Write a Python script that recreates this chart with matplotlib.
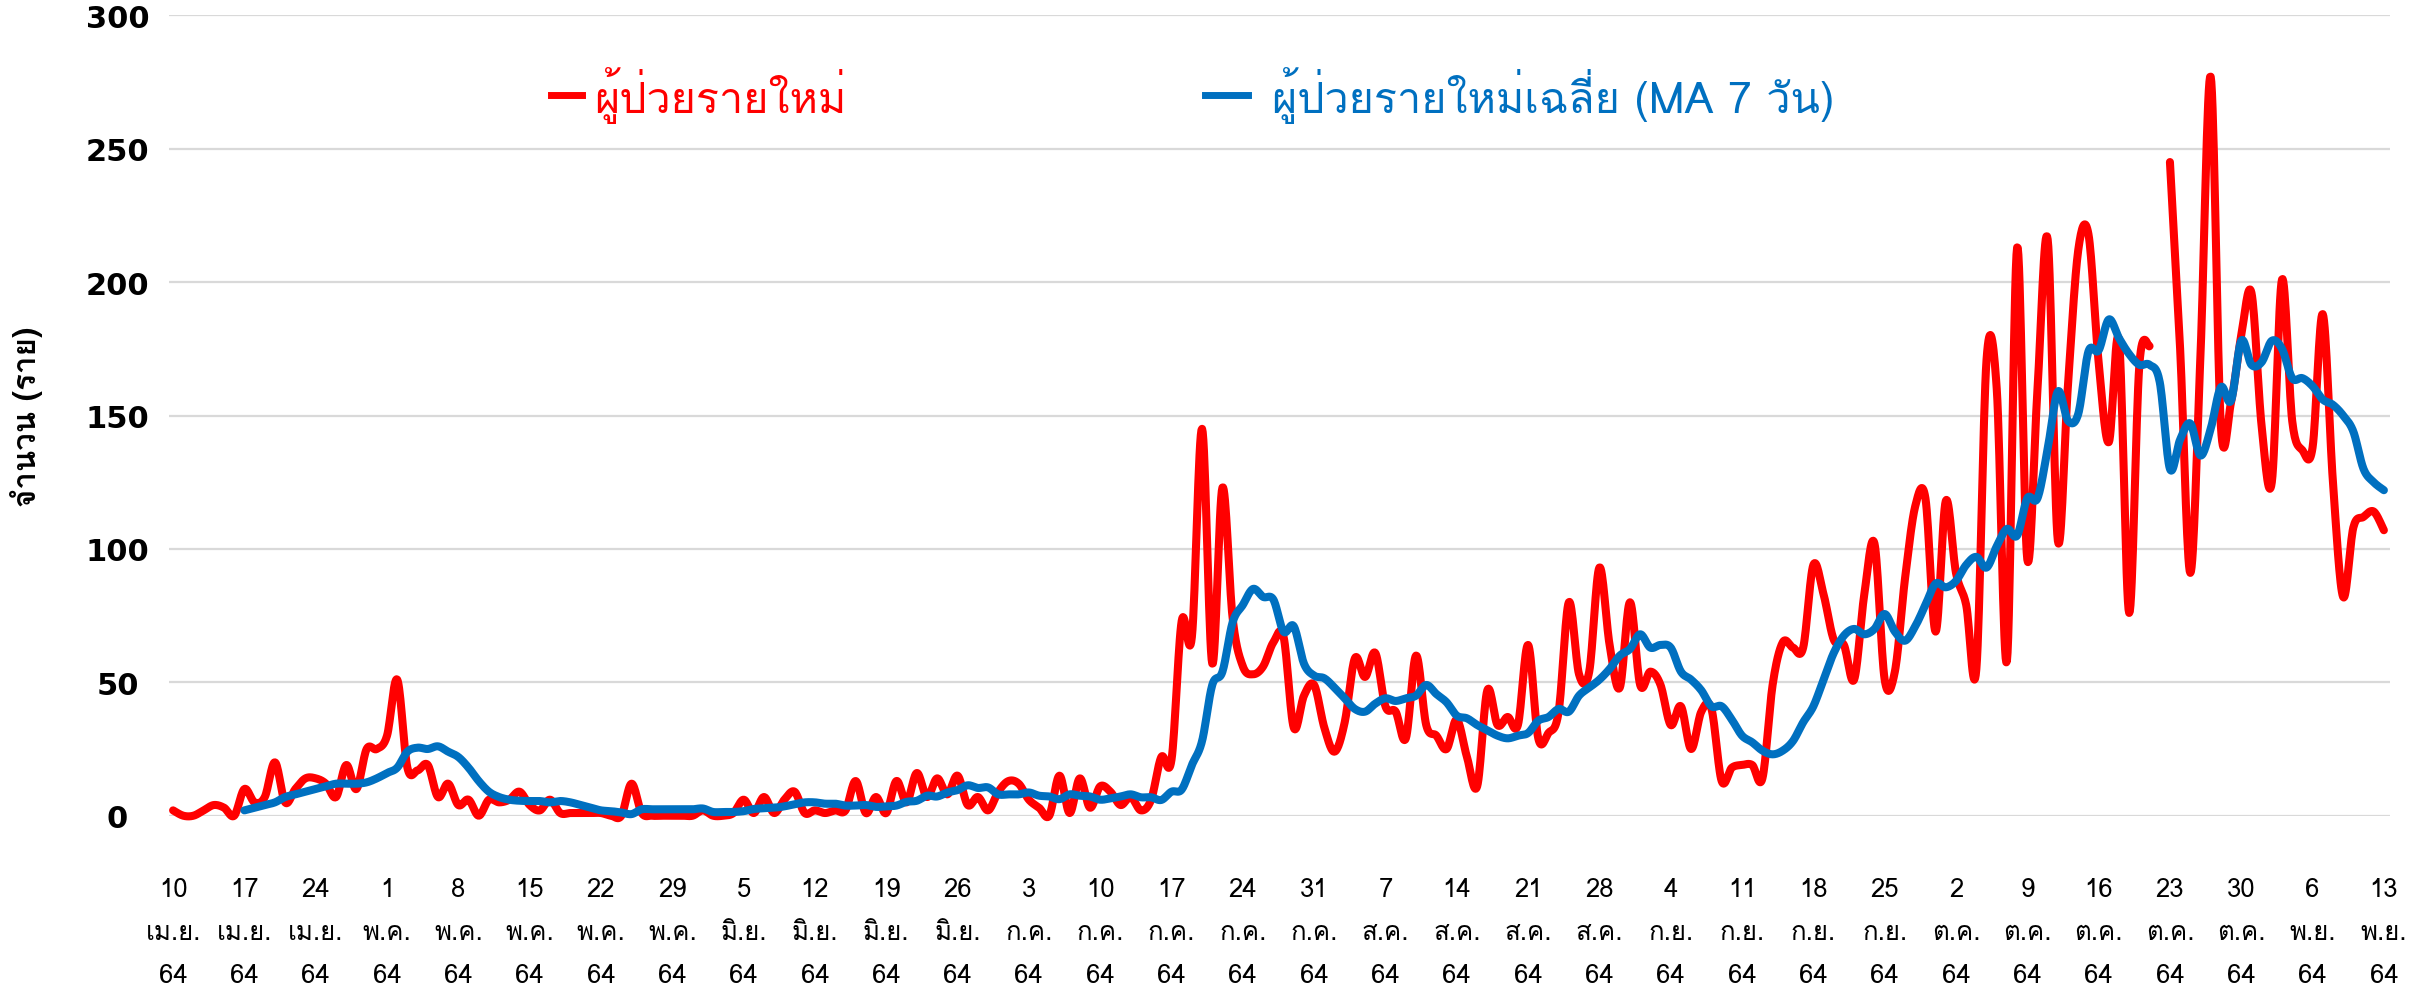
import numpy as np
import matplotlib
matplotlib.use("Agg")
import matplotlib.pyplot as plt

# ---------------- data ----------------
new_cases = [
    2, 0, 0, 2, 4, 3, 0, 10, 5, 7, 20, 5, 10, 14, 14, 12, 7, 19, 10, 25,
    25, 30, 51, 18, 17, 19, 7, 12, 4, 6, 0, 6, 5, 6, 9, 4, 2, 6, 1, 1,
    1, 1, 1, 0, 0, 12, 1, 0, 0, 0, 0, 0, 2, 0, 0, 1, 6, 1, 7, 1,
    6, 9, 1, 2, 1, 2, 2, 13, 1, 7, 1, 13, 5, 16, 7, 14, 8, 15, 4, 7,
    2, 9, 13, 12, 6, 3, 0, 15, 1, 14, 3, 11, 9, 4, 7, 2, 6, 22, 21, 73,
    67, 145, 57, 123, 74, 56, 53, 56, 65, 67, 33, 45, 49, 33, 24, 35, 59, 52, 61, 41,
    39, 29, 60, 34, 30, 25, 36, 22, 11, 47, 34, 37, 34, 64, 29, 31, 39, 80, 53, 54,
    93, 64, 48, 80, 49, 54, 49, 34, 41, 25, 39, 40, 13, 18, 19, 19, 14, 49, 65, 63,
    63, 94, 83, 66, 64, 51, 83, 102, 51, 54, 89, 116, 119, 69, 118, 91, 79, 55, 171, 160,
    58, 213, 96, 160, 216, 103, 162, 212, 218, 170, 140, 178, 76, 169, 176, np.nan, 245, 175, 91, 173,
    277, 146, 155, 180, 196, 146, 125, 201, 148, 137, 138, 188, 125, 82, 108, 112, 114, 107,
]

ma7 = [np.nan] * 7 + [
    2, 3, 4, 5, 7, 8, 9, 10, 11, 12, 12, 12, 12.5, 14, 16, 18, 24, 25.5, 25, 26,
    24, 22, 18, 13, 9, 7, 6, 5.6, 5.5, 5.5, 5, 5.5, 5, 4, 3, 2, 1.7, 1.2, 0.6, 2.4,
    2.4, 2.4, 2.4, 2.4, 2.4, 2.7, 1.4, 1.4, 1.4, 1.7, 2.5, 2.8, 3, 3.5, 4.3, 5, 5, 4.5,
    4.5, 3.8, 3.8, 4, 3.3, 3.5, 3.8, 5.2, 5.6, 7.5, 7.2, 8.7, 9.6, 11.4, 10.4, 10.6, 8, 8,
    8, 8.7, 7.5, 7.2, 6.2, 8, 7.5, 7.2, 6, 6.5, 7.2, 8, 6.9, 6.9, 5.9, 9, 9.8, 19,
    28, 49, 54, 72.5, 79, 85, 82, 81, 69, 71, 57, 52.5, 51.5, 48, 44, 40, 39, 42, 44, 43,
    44, 45, 49, 45.6, 42.5, 37.5, 36.5, 34, 32, 30, 29, 30, 31, 35.6, 37, 40, 39, 45, 48, 51,
    55, 60, 62.5, 68, 63, 64, 63, 54, 51, 47, 41, 41, 36, 30, 27.5, 24.4, 23, 24.4, 28, 35,
    41, 51, 61, 67.5, 70, 68, 70, 75.6, 69, 65.6, 71, 79, 87, 85.6, 88, 94, 97, 93, 101, 107.5,
    105, 119, 119, 137.5, 159, 148, 150.6, 174, 174.4, 186, 179, 173, 169, 169, 162.5, 130, 141, 147, 135, 145,
    160.6, 155.6, 178, 169, 170, 178, 175, 164, 164, 161, 156, 154, 150, 144, 130, 125, 122,
]

tick_days = ["10", "17", "24", "1", "8", "15", "22", "29", "5", "12", "19", "26",
             "3", "10", "17", "24", "31", "7", "14", "21", "28", "4", "11", "18",
             "25", "2", "9", "16", "23", "30", "6", "13"]
tick_months = ["เม.ย."] * 3 + ["พ.ค."] * 5 + ["มิ.ย."] * 4 + ["ก.ค."] * 5 + \
              ["ส.ค."] * 4 + ["ก.ย."] * 4 + ["ต.ค."] * 5 + ["พ.ย."] * 2
tick_year = "64"
legend_labels = ["ผู้ป่วยรายใหม่", "ผู้ป่วยรายใหม่เฉลี่ย (MA 7 วัน)"]
y_label = "จำนวน (ราย)"
y_ticks = [0, 50, 100, 150, 200, 250, 300]

# ---------------- fonts ----------------
FAMS = ["Loma", "DejaVu Sans"]
plt.rcParams["font.family"] = FAMS

# ---------------- smoothing (Excel-like) ----------------
def smooth_runs(x, y, n=16):
    x = np.asarray(x, float)
    y = np.asarray(y, float)
    idx = np.where(~np.isnan(y))[0]
    runs = np.split(idx, np.where(np.diff(idx) != 1)[0] + 1)
    out = []
    t = np.linspace(0, 1, n, endpoint=False)
    for r in runs:
        if len(r) == 0:
            continue
        P = np.column_stack([x[r], y[r]])
        if len(P) == 1:
            out.append(P)
            continue
        Pe = np.vstack([P[0], P, P[-1]])
        pts = []
        for i in range(len(P) - 1):
            p0, p1, p2, p3 = Pe[i], Pe[i + 1], Pe[i + 2], Pe[i + 3]
            c1 = p1 + (p2 - p0) / 6.0
            c2 = p2 - (p3 - p1) / 6.0
            b = (((1 - t) ** 3)[:, None] * p1 + (3 * (1 - t) ** 2 * t)[:, None] * c1
                 + (3 * (1 - t) * t ** 2)[:, None] * c2 + (t ** 3)[:, None] * p2)
            pts.append(b)
        pts.append(P[-1:])
        out.append(np.vstack(pts))
    return out

# ---------------- plot ----------------
W, H = 2432, 1004
fig = plt.figure(figsize=(W / 100, H / 100), dpi=100)
left, right = 169 / W, 2390 / W
bottom, top = 1 - 816.7 / H, 1 - 16.3 / H
ax = fig.add_axes([left, bottom, right - left, top - bottom])

days = np.arange(len(new_cases))
RED = "#FF0000"
BLUE = "#0070C0"

for seg in smooth_runs(days, new_cases):
    ax.plot(seg[:, 0], seg[:, 1], color=RED, lw=5.8, solid_capstyle="round",
            solid_joinstyle="round", clip_on=False, zorder=3)
for seg in smooth_runs(days, ma7):
    ax.plot(seg[:, 0], seg[:, 1], color=BLUE, lw=5.8, solid_capstyle="round",
            solid_joinstyle="round", clip_on=False, zorder=4)

ax.set_xlim(-0.4, len(new_cases) - 1 + 0.6)
ax.set_ylim(0, 300)
ax.set_yticks(y_ticks, labels=[str(v) for v in y_ticks], ha="center",
              fontweight="bold", fontfamily="DejaVu Sans", fontsize=22)
ax.yaxis.grid(True, color="#D9D9D9", lw=1.6)
ax.set_axisbelow(True)
for s in ax.spines.values():
    s.set_visible(False)
ax.tick_params(axis="y", length=0, pad=37)

tick_pos = np.arange(0, len(new_cases), 7)
ax.set_xticks(tick_pos)
ax.set_xticklabels([f"{d}\n{m}\n{tick_year}" for d, m in zip(tick_days, tick_months)],
                   linespacing=2.0)
ax.tick_params(axis="x", length=0, pad=44, labelsize=18.5)

ax.set_ylabel(y_label, fontsize=22.5, fontweight="bold", labelpad=31)

# legend
fig.lines.append(plt.Line2D([551 / W, 582 / W], [1 - 96 / H] * 2, color=RED, lw=5,
                            transform=fig.transFigure))
fig.text(594 / W, 1 - 96 / H, legend_labels[0], color=RED, fontsize=31,
         va="center", ha="left")
fig.lines.append(plt.Line2D([1205 / W, 1248 / W], [1 - 96 / H] * 2, color=BLUE, lw=5,
                            transform=fig.transFigure))
fig.text(1272 / W, 1 - 96 / H, legend_labels[1], color=BLUE, fontsize=31,
         va="center", ha="left")

fig.savefig("out.png", dpi=100)
